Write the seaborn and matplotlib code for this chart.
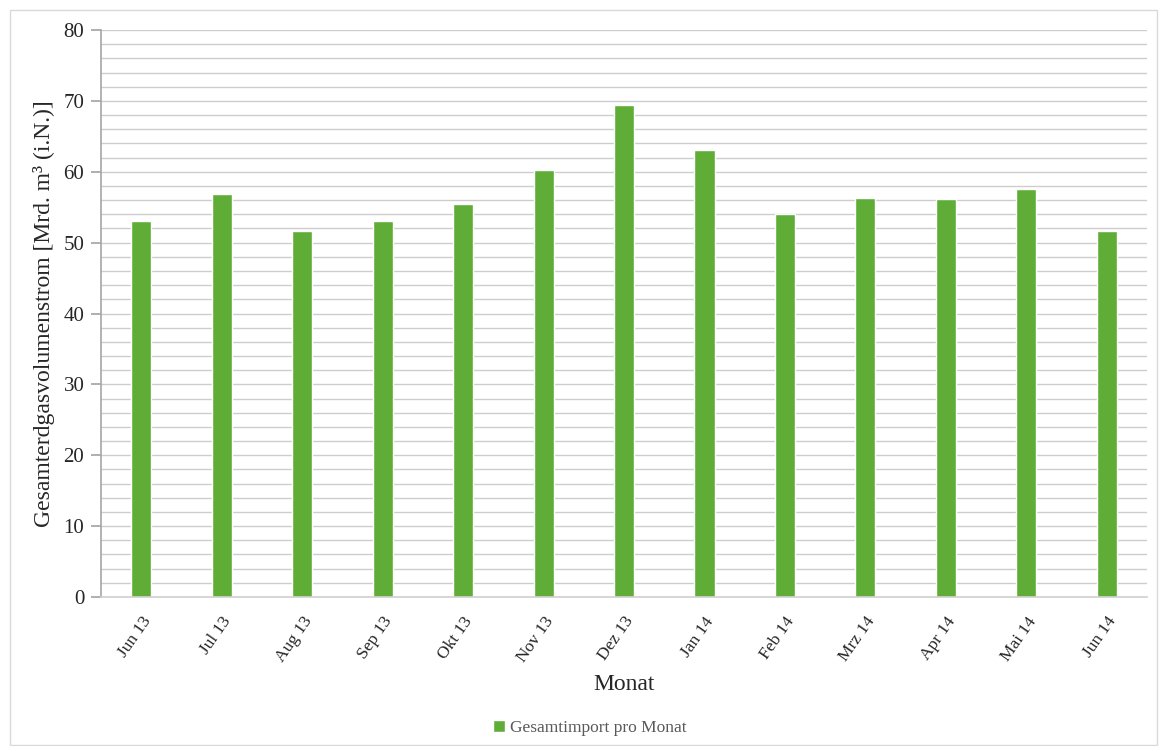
import matplotlib
matplotlib.use("Agg")
import matplotlib.pyplot as plt
from matplotlib.patches import Rectangle
import seaborn as sns
import pandas as pd
import numpy as np

months = ["Jun 13", "Jul 13", "Aug 13", "Sep 13", "Okt 13", "Nov 13", "Dez 13",
          "Jan 14", "Feb 14", "Mrz 14", "Apr 14", "Mai 14", "Jun 14"]
imports = [53.0, 56.8, 51.6, 53.1, 55.5, 60.2, 69.4, 63.1, 54.0, 56.3, 56.1, 57.6, 51.6]
series_name = "Gesamtimport pro Monat"

bar_color = "#5FAD36"

sns.set_theme(style="white")
plt.rcParams["font.family"] = ["Liberation Serif", "DejaVu Serif"]

df = pd.DataFrame({"Monat": months, "Wert": imports, "Serie": series_name})

fig = plt.figure(figsize=(11.61, 7.46), dpi=100)
ax = fig.add_axes([0.087, 0.1997, 0.901, 0.7601])

sns.barplot(data=df, x="Monat", y="Wert", hue="Serie", palette=[bar_color],
            width=0.25, ax=ax, legend=True, saturation=1)

ax.set_ylim(0, 80)
ax.set_xlim(-0.5, len(months) - 0.5)
ax.set_yticks(np.arange(0, 81, 10))
ax.set_yticks(np.arange(0, 81, 2), minor=True)
ax.grid(axis="y", which="both", color="#CDCDCD", linewidth=1.0, zorder=0)
ax.set_axisbelow(True)

for s in ["top", "right"]:
    ax.spines[s].set_visible(False)
ax.spines["left"].set_color("#A6A6A6")
ax.spines["bottom"].set_color("#D0D0D0")
ax.spines["left"].set_linewidth(1.2)
ax.spines["bottom"].set_linewidth(1.2)

ax.tick_params(axis="y", which="major", left=True, length=7, color="#A6A6A6",
               labelsize=15, pad=5)
ax.tick_params(axis="y", which="minor", left=False)
ax.tick_params(axis="x", bottom=False, labelsize=12.5, pad=6)
plt.setp(ax.get_xticklabels(), rotation=55, ha="right", rotation_mode="anchor")

ax.set_ylabel("Gesamterdgasvolumenstrom [Mrd. m³ (i.N.)]", fontsize=17, labelpad=6)
ax.set_xlabel("Monat", fontsize=17, labelpad=6)

handles, labels = ax.get_legend_handles_labels()
ax.legend_.remove()
fig.legend(handles, labels, loc="center", bbox_to_anchor=(0.508, 0.024),
           frameon=False, fontsize=12.5, handlelength=0.7, handleheight=0.7,
           handletextpad=0.3, labelcolor="#595959")

# Light frame around the whole figure
fig.patches.append(Rectangle((10 / 1161, 1 - 745 / 746), 1147 / 1161, 735 / 746,
                             transform=fig.transFigure, fill=False,
                             edgecolor="#D9D9D9", linewidth=1))

fig.savefig("out.png", dpi=100)
